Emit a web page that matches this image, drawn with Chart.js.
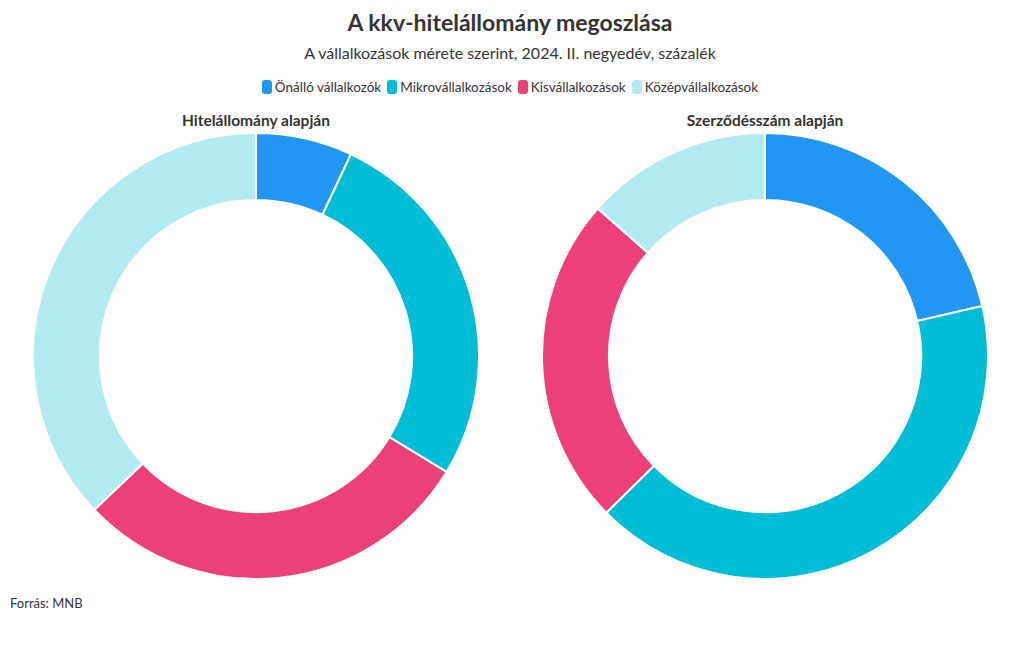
<!DOCTYPE html>
<html>
<head>
<meta charset="utf-8">
<script src="https://cdn.jsdelivr.net/npm/chart.js@4"></script>
<style>
    body { margin:0; background:#fff; font-family:'Source Sans Pro', Lato, sans-serif; color:#333; }
    #wrap { position:relative; width:1020px; height:650px; }
    .title { position:absolute; left:0; width:1020px; text-align:center; top:8px; font-size:23px; font-weight:700; }
    .subtitle { position:absolute; left:0; width:1020px; text-align:center; top:43px; font-size:16px; }
    #legend { position:absolute; left:0; width:1020px; top:79px; text-align:center; font-size:13.5px; }
    #legend span.item { display:inline-block; margin:0 3px; }
    #legend i { display:inline-block; width:10px; height:14px; border-radius:3px; vertical-align:-2px; margin-right:3px; }
    .ctitle { position:absolute; top:111px; width:512px; text-align:center; font-size:15.5px; font-weight:700; }
    .chart { position:absolute; top:132px; width:448px; height:448px; }
    .source { position:absolute; left:10px; top:595px; font-size:13px; }
</style>
</head>
<body>
<div id="wrap">
    <div class="title">A kkv-hitelállomány megoszlása</div>
    <div class="subtitle">A vállalkozások mérete szerint, 2024. II. negyedév, százalék</div>
    <div id="legend"></div>
    <div class="ctitle" id="t-left" style="left:0"></div>
    <div class="ctitle" id="t-right" style="left:509px"></div>
    <div class="chart" style="left:32px"><canvas id="chart-left"></canvas></div>
    <div class="chart" style="left:541px"><canvas id="chart-right"></canvas></div>
    <div class="source">Forrás: MNB</div>
</div>
<script>
// categories and shares (%)
const CATEGORIES = ['Önálló vállalkozók', 'Mikrovállalkozások', 'Kisvállalkozások', 'Középvállalkozások'];
const COLORS = ['#2196f3', '#00bcd4', '#ec407a', '#b2ebf2'];
const CHART_TITLES = ['Hitelállomány alapján', 'Szerződésszám alapján'];
const LOAN_SHARE = [7.0, 26.7, 29.2, 37.1];
const CONTRACT_SHARE = [21.4, 41.2, 23.9, 13.5];

function renderLegend() {
    document.getElementById('legend').innerHTML = CATEGORIES.map((c, i) =>
        `<span class="item"><i style="background:${COLORS[i]}"></i>${c}</span>`
    ).join('');
}

function makeDonut(id, values) {
    return new Chart(document.getElementById(id), {
        type: 'doughnut',
        data: {
            labels: CATEGORIES,
            datasets: [{
                data: values,
                backgroundColor: COLORS,
                borderColor: '#fff',
                borderWidth: 2,
                hoverOffset: 0
            }]
        },
        options: {
            responsive: true,
            maintainAspectRatio: false,
            animation: false,
            cutout: '70%',
            layout: { padding: 0 },
            plugins: { legend: { display: false }, tooltip: { enabled: false } }
        }
    });
}

renderLegend();
document.getElementById('t-left').textContent = CHART_TITLES[0];
document.getElementById('t-right').textContent = CHART_TITLES[1];
makeDonut('chart-left', LOAN_SHARE);
makeDonut('chart-right', CONTRACT_SHARE);
</script>
</body>
</html>
